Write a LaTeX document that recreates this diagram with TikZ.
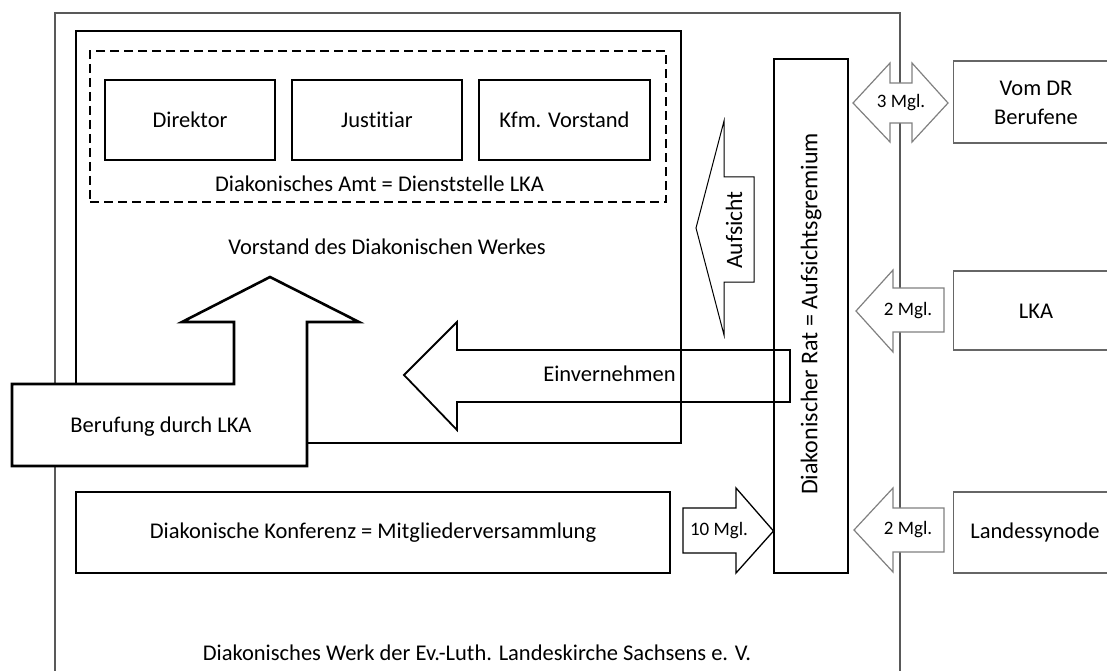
\documentclass[tikz,border=0pt]{standalone}
\usepackage{fontspec}
\setmainfont{Carlito}[Ligatures=NoCommon]
\begin{document}
\begin{tikzpicture}[x=1pt, y=-1pt, font=\fontsize{22.5}{27}\selectfont,
    box/.style={draw, line width=1.8pt, inner sep=0pt},
    rbox/.style={draw, gray!80!black, line width=1.8pt, inner sep=0pt},
    blockarrow/.style={draw, fill=white, line width=1.8pt, line join=miter},
    thinarrow/.style={draw, fill=white, line width=1pt, line join=miter},
    mglarrow/.style={draw=gray, fill=white, line width=1.2pt, line join=miter},
    small/.style={font=\fontsize{19}{22}\selectfont, inner sep=0pt}]
    \useasboundingbox (0,0) rectangle (1107,671);
    % outer frame (open at the bottom)
    \draw[gray!70!black, line width=1.6pt] (55,671) -- (55,13) -- (900,13) -- (900,671);
    % Vorstand
    \node[box, minimum width=605, minimum height=412] (vorstand) at (378.5,237) {};
    \node[box, dashed, dash pattern=on 9pt off 5pt, line width=2pt, minimum width=576, minimum height=151] (amt) at (378,126.5) {};
    \node[box, minimum width=170, minimum height=80] (direktor) at (190,120) {Direktor};
    \node[box, minimum width=170, minimum height=80] (justitiar) at (377,120) {Justitiar};
    \node[box, minimum width=171, minimum height=80] (kfm) at (564.5,120) {Kfm. Vorstand};
    \node (amtlabel) at (379.5,184) {Diakonisches Amt = Dienststelle LKA};
    \node (vorstandlabel) at (387,247) {Vorstand des Diakonischen Werkes};
    % Rat
    \node[box, line width=2pt, minimum width=74.5, minimum height=514] (rat) at (810.75,316) {};
    \node[rotate=90, font=\fontsize{24}{28}\selectfont] (ratlabel) at (811,314) {Diakonischer Rat = Aufsichtsgremium};
    % Einvernehmen
    \draw[blockarrow, fill=none] (404,375) -- (457,322) -- (457,350) -- (790,350) -- (790,402) -- (457,402) -- (457,430) -- cycle;
    \node (einvernehmen) at (609.5,374) {Einvernehmen};
    % Aufsicht
    \draw[thinarrow] (696,228) -- (724,121) -- (724,177) -- (754,177) -- (754,282) -- (724,282) -- (724,335) -- cycle;
    \node[rotate=90, font=\fontsize{23.5}{28}\selectfont] (aufsicht) at (734,230) {Aufsicht};
    % Berufung
    \draw[blockarrow, line width=2.6pt] (12,384) -- (234,384) -- (234,322) -- (182,322) -- (270,277) -- (359,322) -- (307,322) -- (307,466) -- (12,466) -- cycle;
    \node (berufung) at (161,427) {Berufung durch LKA};
    % Konferenz
    \node[box, minimum width=594, minimum height=81] (konferenz) at (373,532.5) {Diakonische Konferenz = Mitgliederversammlung};
    \draw[thinarrow, line width=1.3pt] (683,508) -- (736,508) -- (736,488) -- (773.5,531) -- (736,573) -- (736,553) -- (683,553) -- cycle;
    \node[small] (zehn) at (719,531) {10 Mgl.};
    % right side
    \node[rbox, minimum width=170, minimum height=82] (dr) at (1038.5,102) {};
    \node[align=center, font=\fontsize{22.5}{29}\selectfont] (drlabel) at (1036,103) {Vom DR\\Berufene};
    \node[rbox, minimum width=170, minimum height=79] (lka) at (1038.5,310.5) {};
    \node (lkalabel) at (1036,311) {LKA};
    \node[rbox, minimum width=170, minimum height=81] (synode) at (1038.5,532.5) {};
    \node (synodelabel) at (1035,532) {Landessynode};
    \draw[mglarrow] (853,103) -- (890,63) -- (890,83) -- (912,83) -- (912,63) -- (948,103) -- (912,142) -- (912,123) -- (890,123) -- (890,142) -- cycle;
    \node[small] (drei) at (901,103) {3 Mgl.};
    \draw[mglarrow] (856,311) -- (893,270) -- (893,288) -- (944,288) -- (944,332) -- (893,332) -- (893,352) -- cycle;
    \node[small] (zweia) at (908,311) {2 Mgl.};
    \draw[mglarrow] (854,530) -- (893,488) -- (893,508) -- (944,508) -- (944,552) -- (893,552) -- (893,572) -- cycle;
    \node[small] (zweib) at (908,530) {2 Mgl.};
    % Werk
    \node (werk) at (477,653) {Diakonisches Werk der Ev.-Luth. Landeskirche Sachsens e. V.};
\end{tikzpicture}
\end{document}
